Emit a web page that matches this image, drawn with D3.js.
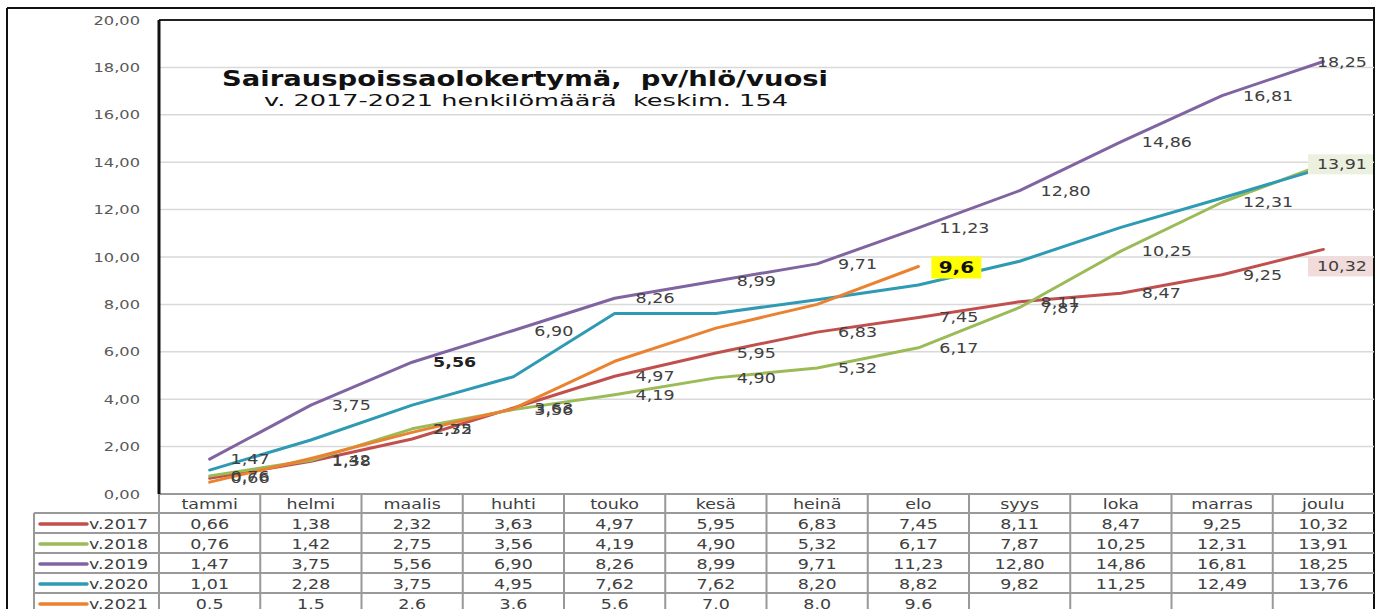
<!DOCTYPE html>
<html>
<head>
<meta charset="utf-8">
<script src="https://cdn.jsdelivr.net/npm/d3@7"></script>
<style>
  html, body { margin: 0; padding: 0; background: #fff; }
  svg { display: block; font-family: "DejaVu Sans", Verdana, sans-serif; }
</style>
</head>
<body>
<svg id="chart" width="1380" height="609"></svg>
<script>
// ---------- data ----------
const months = ["tammi","helmi","maalis","huhti","touko","kesä","heinä","elo","syys","loka","marras","joulu"];
const seriesNames = ["v.2017","v.2018","v.2019","v.2020","v.2021"];
const v2017 = [0.66,1.38,2.32,3.63,4.97,5.95,6.83,7.45,8.11,8.47,9.25,10.32];
const v2018 = [0.76,1.42,2.75,3.56,4.19,4.90,5.32,6.17,7.87,10.25,12.31,13.91];
const v2019 = [1.47,3.75,5.56,6.90,8.26,8.99,9.71,11.23,12.80,14.86,16.81,18.25];
const v2020 = [1.01,2.28,3.75,4.95,7.62,7.62,8.20,8.82,9.82,11.25,12.49,13.76];
const v2021 = [0.5,1.5,2.6,3.6,5.6,7.0,8.0,9.6];
const yTicks = [0,2,4,6,8,10,12,14,16,18,20];
const titleText = "Sairauspoissaolokertymä,  pv/hlö/vuosi";
const subtitleText = "v. 2017-2021 henkilömäärä  keskim. 154";

// ---------- style ----------
const colors = ["#c0504d","#9bbb59","#8064a2","#2f9ab4","#eb8230"];
const SX = 1.25; // horizontal text stretch
const L = 159, R = 1374, T = 20, B = 494;
const rowH = 20;

const svg = d3.select("#chart");
const x = d3.scaleBand().domain(months).range([L, R]);
const y = d3.scaleLinear().domain([0, 20]).range([B, T]);
const cx = m => x(m) + x.bandwidth() / 2;

const fmt2 = v => d3.format(".2f")(v).replace(".", ",");
const fmt1 = v => d3.format(".1f")(v).replace(".", ",");

function stretched(sel, X) {
  return sel.attr("x", X / SX).attr("transform", `scale(${SX},1)`);
}

// outer frame
svg.append("line").attr("x1",7).attr("x2",7).attr("y1",8).attr("y2",609).attr("stroke","#111").attr("stroke-width",2);
svg.append("line").attr("x1",7).attr("x2",R+1).attr("y1",8).attr("y2",8).attr("stroke","#111").attr("stroke-width",2);
svg.append("line").attr("x1",R).attr("x2",R).attr("y1",8).attr("y2",609).attr("stroke","#111").attr("stroke-width",2);

// gridlines
svg.append("g").selectAll("line").data(yTicks.filter(d => d > 0 && d < 20)).join("line")
  .attr("x1", L).attr("x2", R).attr("y1", d => y(d)).attr("y2", d => y(d))
  .attr("stroke", "#d9d9d9").attr("stroke-width", 1.5);

// y axis labels
const yAxis = svg.append("g").attr("transform", `translate(${L},0)`)
  .call(d3.axisLeft(y).tickValues(yTicks).tickFormat(fmt2).tickSize(0).tickPadding(19));
yAxis.select(".domain").remove();
yAxis.selectAll("text")
  .attr("font-size", 13).attr("fill", "#595959")
  .attr("font-family", "DejaVu Sans, sans-serif")
  .each(function() { d3.select(this).attr("x", -19 / SX).attr("transform", `scale(${SX},1)`); });

// plot borders
svg.append("line").attr("x1",L).attr("x2",R).attr("y1",T).attr("y2",T).attr("stroke","#222").attr("stroke-width",2);

// title
svg.append("text").attr("x", 222).attr("y", 86)
  .attr("font-size", 21).attr("font-weight", "bold").attr("fill", "#111")
  .style("white-space", "pre")
  .attr("textLength", 606).attr("lengthAdjust", "spacingAndGlyphs")
  .text(titleText);
svg.append("text").attr("x", 264).attr("y", 106)
  .attr("font-size", 16).attr("fill", "#111")
  .style("white-space", "pre")
  .attr("textLength", 524).attr("lengthAdjust", "spacingAndGlyphs")
  .text(subtitleText);

// series lines
const allSeries = [v2017, v2018, v2019, v2020, v2021];
const line = d3.line().x((d, i) => cx(months[i])).y(d => y(d));
svg.append("g").selectAll("path").data(allSeries).join("path")
  .attr("d", d => line(d))
  .attr("fill", "none")
  .attr("stroke", (d, i) => colors[i])
  .attr("stroke-width", 3)
  .attr("stroke-linejoin", "round")
  .attr("stroke-linecap", "round");

// data labels (series 2017, 2018, 2019)
const labelG = svg.append("g");
const lastIdx = months.length - 1;
const labelBg = { 0: "#f2dcdb", 1: "#ebf1de" };
const labelNudge = { "0-2": -10, "0-11": 17 };   // manually moved labels in the original
const boldLabels = { "2-2": true };
[0, 1, 2].forEach(si => {
  allSeries[si].forEach((v, i) => {
    const px = cx(months[i]);
    const py = y(v) + (labelNudge[si + "-" + i] || 0);
    const t = labelG.append("text")
      .attr("y", py).attr("dy", "0.36em")
      .attr("font-size", 14).attr("fill", boldLabels[si + "-" + i] ? "#222" : "#404040")
      .attr("font-weight", boldLabels[si + "-" + i] ? "bold" : "normal")
      .text(fmt2(v));
    const w = t.node().getComputedTextLength() * SX;
    let lx = px + 21;
    if (i === lastIdx) {
      lx = R - 7 - w;
      if (labelBg[si] !== undefined) {
        labelG.insert("rect", "text")
          .attr("x", R - 66).attr("y", py - 10).attr("width", 65).attr("height", 20)
          .attr("fill", labelBg[si]);
      }
    }
    stretched(t, lx);
  });
});

// 2021 last label highlighted
{
  const i = v2021.length - 1;
  const px = cx(months[i]), py = y(v2021[i]);
  labelG.append("rect").attr("x", px + 13).attr("y", py - 10).attr("width", 50).attr("height", 22).attr("fill", "#ffff00");
  const t = labelG.append("text").attr("y", py + 1).attr("dy", "0.36em")
    .attr("font-size", 16).attr("font-weight", "bold").attr("fill", "#111")
    .attr("text-anchor", "middle").text(fmt1(v2021[i]));
  stretched(t, px + 38);
}

// ---------- data table ----------
const tbl = svg.append("g");
const gridC = "#999", gridW = 2;
const legL = 34;
const nRows = seriesNames.length;
tbl.append("line").attr("x1", L).attr("x2", R).attr("y1", B).attr("y2", B).attr("stroke", gridC).attr("stroke-width", gridW);
for (let r = 0; r <= nRows; r++) {
  const yy = B + rowH * (r + 1) - 1;
  tbl.append("line").attr("x1", legL).attr("x2", R).attr("y1", yy).attr("y2", yy).attr("stroke", gridC).attr("stroke-width", gridW);
}
months.forEach(m => {
  tbl.append("line").attr("x1", x(m)).attr("x2", x(m)).attr("y1", B).attr("y2", 609).attr("stroke", gridC).attr("stroke-width", gridW);
});
tbl.append("line").attr("x1", legL).attr("x2", legL).attr("y1", B + rowH - 1).attr("y2", 609).attr("stroke", gridC).attr("stroke-width", gridW);
// y axis line
svg.append("line").attr("x1",L).attr("x2",L).attr("y1",T).attr("y2",B).attr("stroke","#111").attr("stroke-width",3);

// header
months.forEach(m => {
  const t = tbl.append("text").attr("y", B + 10).attr("dy", "0.36em")
    .attr("font-size", 14).attr("fill", "#404040").attr("text-anchor", "middle").text(m);
  stretched(t, cx(m));
});
// rows
allSeries.forEach((s, si) => {
  const ry = B + rowH * (si + 1) + 10;
  tbl.append("line").attr("x1", 40).attr("x2", 87).attr("y1", ry).attr("y2", ry)
    .attr("stroke", colors[si]).attr("stroke-width", 3.5).attr("stroke-linecap", "round");
  const lt = tbl.append("text").attr("y", ry).attr("dy", "0.36em")
    .attr("font-size", 14).attr("fill", "#404040").text(seriesNames[si]);
  stretched(lt, 89);
  s.forEach((v, i) => {
    const t = tbl.append("text").attr("y", ry).attr("dy", "0.36em")
      .attr("font-size", 14).attr("fill", "#404040").attr("text-anchor", "middle")
      .text(si === 4 ? fmt1(v) : fmt2(v));
    stretched(t, cx(months[i]));
  });
});
</script>
</body>
</html>
